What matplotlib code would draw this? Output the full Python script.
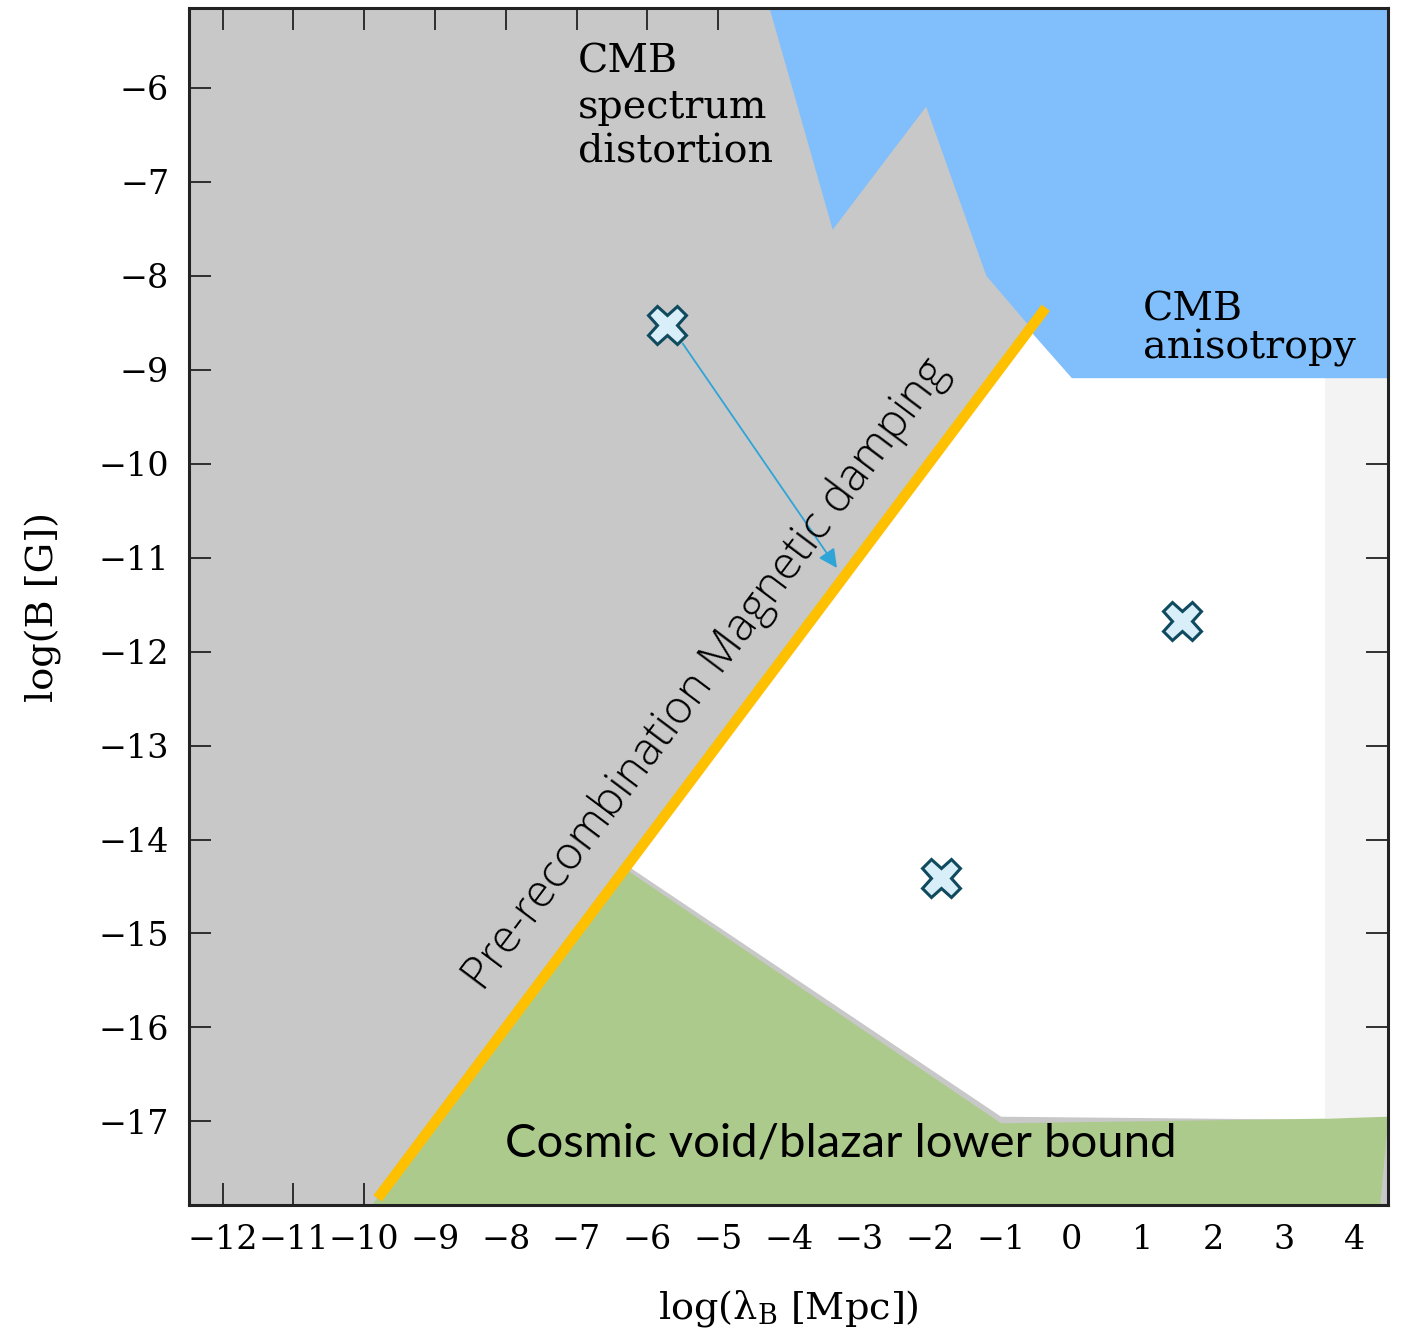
import numpy as np
import matplotlib
matplotlib.use("Agg")
import matplotlib.pyplot as plt
from matplotlib.patches import Polygon

plt.rcParams['font.family'] = ['DejaVu Serif']
plt.rcParams['mathtext.fontset'] = 'dejavuserif'

# axis ticks
x_ticks = list(range(-12, 5))
y_ticks = list(range(-17, -5))

# excluded / allowed regions (log lambda [Mpc], log B [G])
cmb_aniso_x = [-4.33, -3.38, -2.06, -1.21, -0.62, -0.55, 0.0, 4.6, 4.6]
cmb_aniso_y = [-5.0, -7.51, -6.20, -8.00, -8.52, -8.62, -9.09, -9.09, -5.0]

allowed_x = [-0.5, 4.6, 4.6, -1.0, -6.3]
allowed_y = [-8.5, -8.5, -16.99, -16.95, -14.27]

strip_x = [3.58, 4.6, 4.6, 3.58]
strip_y = [-9.09, -9.09, -16.96, -16.96]

void_x = [-9.95, -6.28, -1.0, 3.65, 4.47, 4.35]
void_y = [-17.95, -14.33, -17.02, -16.97, -16.95, -17.95]

# pre-recombination damping line
damp_x = [-9.81, -0.37]
damp_y = [-17.82, -8.34]

# example field configurations
pts_x = [-5.72, 1.55, -1.85]
pts_y = [-8.52, -11.67, -14.41]
arrow_end = (-3.32, -11.11)

fig = plt.figure(figsize=(14.08, 13.33), dpi=100)
ax = fig.add_axes([0.134, 0.096, 0.852, 0.898])
ax.set_facecolor('#c8c8c8')

ax.add_patch(Polygon(np.column_stack([allowed_x, allowed_y]), closed=True,
                     facecolor='white', edgecolor='none', zorder=1))
ax.add_patch(Polygon(np.column_stack([strip_x, strip_y]), closed=True,
                     facecolor='#f3f3f3', edgecolor='none', zorder=1.5))
ax.add_patch(Polygon(np.column_stack([cmb_aniso_x, cmb_aniso_y]), closed=True,
                     facecolor='#80bffb', edgecolor='none', zorder=2))
ax.add_patch(Polygon(np.column_stack([void_x, void_y]), closed=True,
                     facecolor='#adca8d', edgecolor='none', zorder=2))

ax.plot(damp_x, damp_y, color='#ffc000', lw=7.5, solid_capstyle='butt', zorder=3)

ax.plot(pts_x, pts_y, linestyle='none', marker='X', markersize=28,
        markerfacecolor='#d8eef8', markeredgecolor='#0f4a5e',
        markeredgewidth=2.2, zorder=5)
ax.annotate('', xy=arrow_end, xytext=(pts_x[0] + 0.22, pts_y[0] - 0.2),
            arrowprops=dict(arrowstyle='-|>', color='#2fa4d6', lw=1.3,
                            mutation_scale=28, shrinkA=0, shrinkB=0),
            zorder=4)

ax.text(-6.98, -5.53, 'CMB\nspectrum\ndistortion', fontsize=28.5,
        ha='left', va='top', linespacing=1.28, zorder=6)
ax.text(1.0, -8.17, 'CMB\nanisotropy', fontsize=28.5,
        ha='left', va='top', linespacing=1.02, zorder=6)
ax.text(-5.16, -12.25, 'Pre-recombination Magnetic damping', family='Open Sans',
        fontweight='light', fontsize=33, rotation=53.1, rotation_mode='anchor',
        ha='center', va='center', zorder=6)
ax.text(-8.01, -17.24, 'Cosmic void/blazar lower bound', family='Lato',
        fontsize=34, ha='left', va='center', zorder=6)

ax.set_xlim(-12.48, 4.47)
ax.set_ylim(-17.89, -5.15)
ax.set_xticks(x_ticks)
ax.set_yticks(y_ticks)
ax.set_xticklabels([str(v).replace('-', '\u2212') for v in x_ticks])
ax.set_yticklabels([str(v).replace('-', '\u2212') for v in y_ticks])
ax.tick_params(axis='both', which='both', direction='in', length=16, width=1.3,
               top=True, right=True, labelsize=24, color='#222222')
ax.tick_params(axis='x', pad=14)
ax.tick_params(axis='y', pad=14)
for s in ax.spines.values():
    s.set_linewidth(2.2)
    s.set_color('#222222')
    s.set_zorder(10)

ax.set_xlabel('log(\u03bb$_{\\mathrm{B}}$ [Mpc])', fontsize=27.5)
ax.set_ylabel('log(B [G])', fontsize=27.5)
ax.xaxis.set_label_coords(0.5, -0.069)
ax.yaxis.set_label_coords(-0.106, 0.5)

fig.savefig('out.png', dpi=100)
